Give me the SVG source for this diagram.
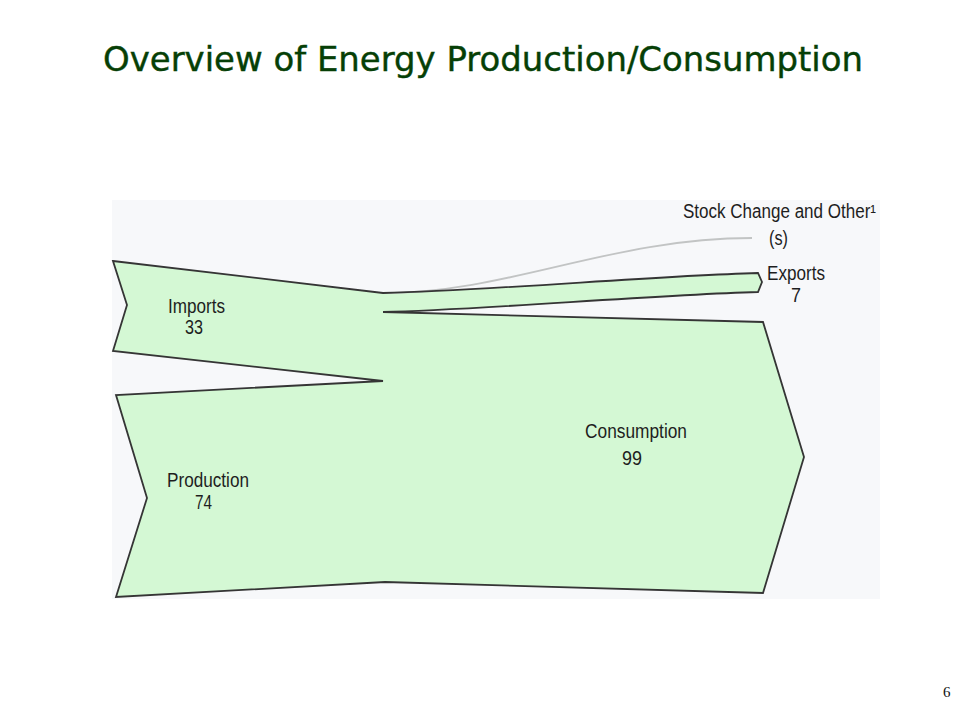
<svg xmlns="http://www.w3.org/2000/svg" width="960" height="720" viewBox="0 0 960 720">
  <style>
    .lbl { font-family: "Liberation Sans", Arial, sans-serif; font-size: 19.5px; fill: #1e1e1e; }
    .outline { fill: none; stroke: #353535; stroke-width: 1.8; stroke-linejoin: miter; }
    .title { font-family: "Comic Sans MS", "DejaVu Sans", sans-serif; font-size: 33px; fill: #063f06; stroke: #063f06; stroke-width: 0.4; }
  </style>
  <rect x="0" y="0" width="960" height="720" fill="#ffffff"/>
  <text class="title" x="103" y="71" textLength="760" lengthAdjust="spacingAndGlyphs">Overview of Energy Production/Consumption</text>

  <rect id="chart-bg" x="112" y="200" width="768" height="399" fill="#f7f8fa"/>

  <g id="flow-fill">
    <path fill="#d4f8d4" stroke="none" d="M113,261 L383,293 C500,290 650,276 758,273 L762,282 L758,292 C650,295 480,310 383,312 L763,322 L804,457 L763,593 L385,582 L116,597 L147,498 L116,395 L383,381 L113,351 L127,305 Z"/>
  </g>

  <g id="connectors">
    <path id="stock-change" fill="none" stroke="#c2c4c4" stroke-width="1.8" d="M383,293 C510,293 610,238 752,238"/>
    <path class="outline" d="M113,261 L383,293 C500,290 650,276 758,273 L762,282 L758,292 C650,295 480,310 383,312 L763,322 L804,457 L763,593 L385,582 L116,597 L147,498 L116,395 L383,381 L113,351 L127,305 Z"/>
  </g>

  <g id="imports">
    <text class="lbl" x="168" y="313" textLength="57" lengthAdjust="spacingAndGlyphs">Imports</text>
    <text class="lbl" x="185" y="334" textLength="18" lengthAdjust="spacingAndGlyphs">33</text>
  </g>
  <g id="production">
    <text class="lbl" x="167" y="487" textLength="82" lengthAdjust="spacingAndGlyphs">Production</text>
    <text class="lbl" x="195" y="509" textLength="17" lengthAdjust="spacingAndGlyphs">74</text>
  </g>
  <g id="consumption">
    <text class="lbl" x="585" y="438" textLength="102" lengthAdjust="spacingAndGlyphs">Consumption</text>
    <text class="lbl" x="622" y="465" textLength="20" lengthAdjust="spacingAndGlyphs">99</text>
  </g>
  <g id="stock">
    <text class="lbl" x="683" y="218" textLength="193" lengthAdjust="spacingAndGlyphs">Stock Change and Other¹</text>
    <text class="lbl" x="769" y="245" textLength="19" lengthAdjust="spacingAndGlyphs">(s)</text>
  </g>
  <g id="exports">
    <text class="lbl" x="767" y="280" textLength="58" lengthAdjust="spacingAndGlyphs">Exports</text>
    <text class="lbl" x="791" y="302" textLength="10" lengthAdjust="spacingAndGlyphs">7</text>
  </g>

  <text x="943" y="697" style="font-family:'Liberation Serif', serif; font-size:15px; fill:#111">6</text>
</svg>
